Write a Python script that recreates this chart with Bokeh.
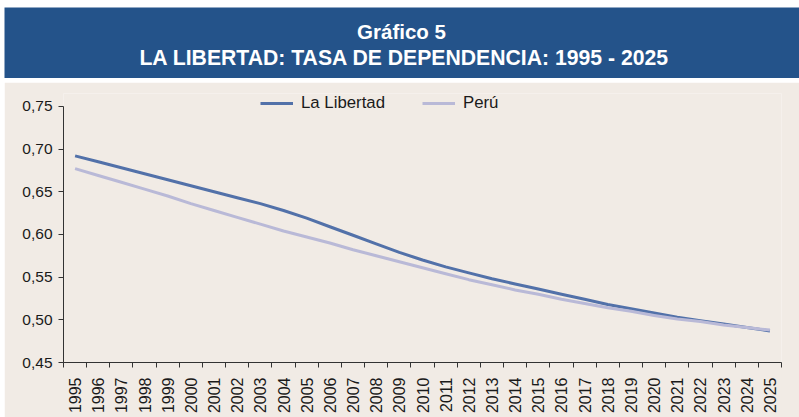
import math
from bokeh.plotting import figure
from bokeh.layouts import column
from bokeh.models import (Range1d, FixedTicker, CustomJSTickFormatter, Legend, LegendItem)
from bokeh.core.properties import value
from bokeh.embed import file_html
from bokeh.resources import INLINE

# ---- data ----
years = list(range(1995, 2026))
la_libertad = [0.692, 0.685, 0.678, 0.671, 0.664, 0.657, 0.650, 0.643, 0.636, 0.628,
               0.619, 0.609, 0.599, 0.589, 0.579, 0.570, 0.562, 0.555, 0.548, 0.542,
               0.536, 0.530, 0.524, 0.518, 0.513, 0.508, 0.503, 0.499, 0.495, 0.491,
               0.487]
peru = [0.677, 0.669, 0.661, 0.653, 0.645, 0.636, 0.628, 0.620, 0.612, 0.604,
        0.597, 0.590, 0.582, 0.575, 0.568, 0.561, 0.554, 0.547, 0.541, 0.535,
        0.530, 0.524, 0.519, 0.514, 0.510, 0.505, 0.501, 0.498, 0.494, 0.491,
        0.488]
y_ticks = [0.45, 0.50, 0.55, 0.60, 0.65, 0.70, 0.75]
series_names = ["La Libertad", "Perú"]
title_line1 = "Gráfico 5"
title_line2 = "LA LIBERTAD: TASA DE DEPENDENCIA: 1995 - 2025"

W = 795
BLUE = "#24538A"
BEIGE = "#F1EBE5"
C_LL = "#5271A9"
C_PE = "#B9B9D7"
AX = "#333333"
FONT = "Liberation Sans"
HEADROOM = 0.015  # room above the axis for the legend

# ---- title band ----
t = figure(width=W, height=71, x_range=Range1d(0, W), y_range=Range1d(71, 0),
           output_backend="svg", toolbar_location=None,
           min_border=0, min_border_left=0, min_border_right=0,
           min_border_top=0, min_border_bottom=0,
           background_fill_color=BLUE, border_fill_color=BLUE, outline_line_color=None)
t.frame_align = False
t.axis.visible = False
t.grid.visible = False
t.text(x=[397], y=[24], text=[title_line1], text_color="white",
       text_font=value(FONT), text_font_style="bold", text_font_size="20.5px",
       text_align="center", text_baseline="middle")
t.text(x=[400], y=[50], text=[title_line2], text_color="white",
       text_font=value(FONT), text_font_style="bold", text_font_size="21.2px",
       text_align="center", text_baseline="middle")

# ---- main chart ----
p = figure(width=W, height=335, x_range=Range1d(years[0] - 0.5, years[-1] + 0.5),
           y_range=Range1d(y_ticks[0], y_ticks[-1] + HEADROOM),
           output_backend="svg", toolbar_location=None,
           background_fill_color=BEIGE, border_fill_color=BEIGE, outline_line_color=None,
           min_border_left=59, min_border_right=18, min_border_top=11, min_border_bottom=55)
p.frame_align = False
p.grid.visible = False

r1 = p.line(years, la_libertad, line_color=C_LL, line_width=3)
r2 = p.line(years, peru, line_color=C_PE, line_width=3)

# x axis: labels at centres, ticks at category boundaries
p.xaxis.ticker = FixedTicker(ticks=years,
                             minor_ticks=[yr - 0.5 for yr in years] + [years[-1] + 0.5])
p.xaxis.major_tick_line_color = None
p.xaxis.major_tick_out = 0
p.xaxis.major_tick_in = 0
p.xaxis.minor_tick_out = 5
p.xaxis.minor_tick_in = 0
p.xaxis.minor_tick_line_color = AX
p.xaxis.major_label_orientation = math.pi / 2
p.xaxis.major_label_standoff = 10
p.xaxis.major_label_text_font = FONT
p.xaxis.major_label_text_font_size = "16px"

# y axis
p.yaxis.ticker = FixedTicker(ticks=y_ticks)
p.yaxis.bounds = (y_ticks[0], y_ticks[-1])
p.yaxis.minor_tick_line_color = None
p.yaxis.major_tick_out = 5
p.yaxis.major_tick_in = 0
p.yaxis.major_tick_line_color = AX
p.yaxis.major_label_standoff = 6
p.yaxis.formatter = CustomJSTickFormatter(code="return tick.toFixed(2).replace('.', ',');")
p.yaxis.major_label_text_font = FONT
p.yaxis.major_label_text_font_size = "15.5px"

for ax in (p.xaxis, p.yaxis):
    ax.axis_line_color = AX
    ax.major_label_text_color = "#1a1a1a"

legend = Legend(items=[LegendItem(label=series_names[0], renderers=[r1]),
                       LegendItem(label=series_names[1], renderers=[r2])],
                orientation="horizontal", location=(197, 249),
                background_fill_alpha=0, border_line_color=None,
                glyph_width=33, glyph_height=18, label_height=18,
                label_standoff=8, spacing=37, padding=0, margin=0,
                label_text_font=FONT, label_text_font_size="16.8px",
                label_text_color="#1a1a1a")
p.add_layout(legend, "center")

layout = column(t, p, spacing=4, margin=(7, 0, 0, 4))
open("out.html", "w").write(file_html(layout, INLINE))
